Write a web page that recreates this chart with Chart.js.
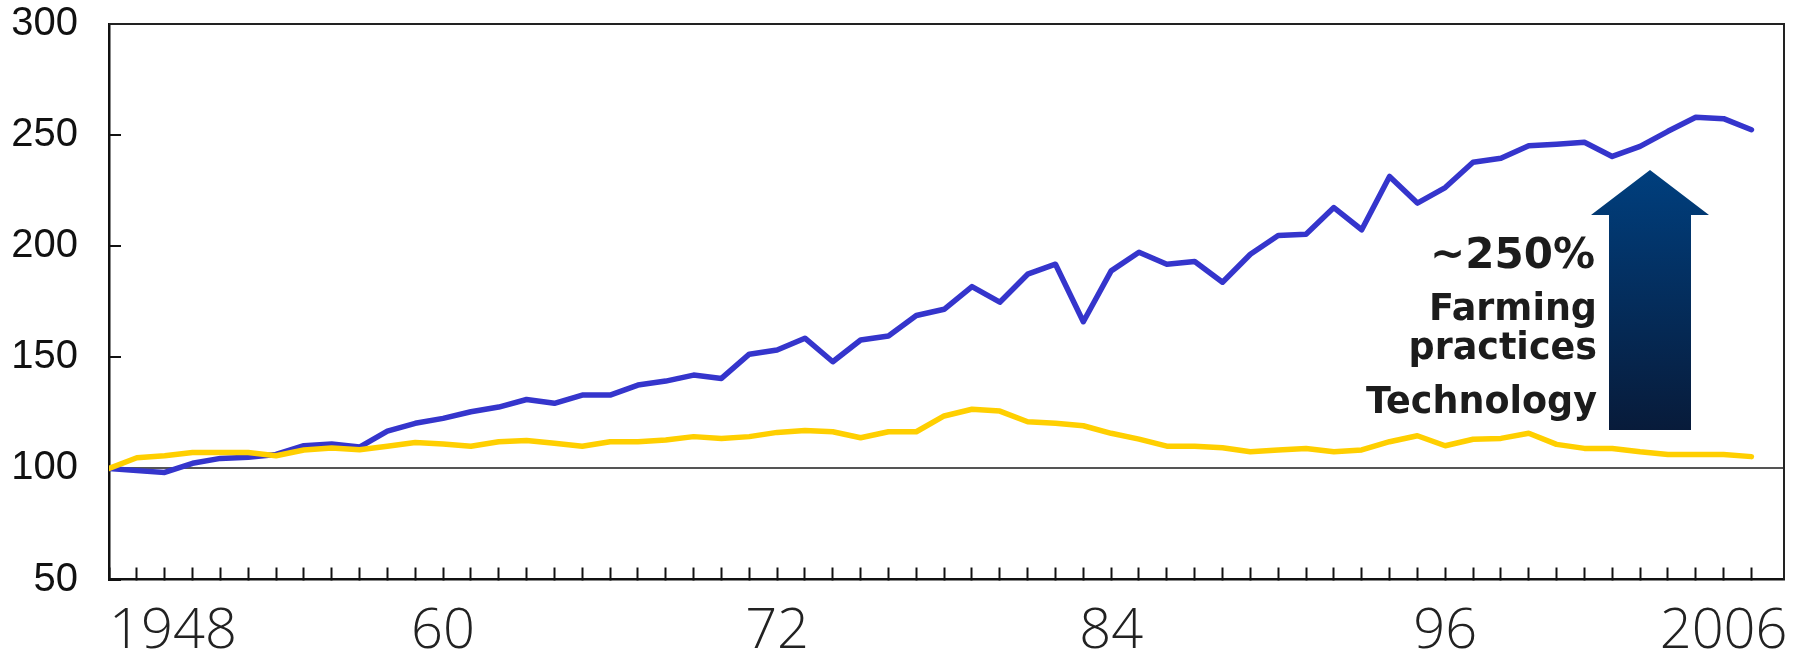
<!DOCTYPE html>
<html>
<head>
<meta charset="utf-8">
<script src="https://cdn.jsdelivr.net/npm/chart.js@4.4.1/dist/chart.umd.min.js"></script>
<style>
  html, body { margin: 0; padding: 0; background: #fff; }
  #wrap { width: 1796px; height: 653px; position: relative; }
</style>
</head>
<body>
<div id="wrap"><canvas id="farmChart"></canvas></div>
<script>
// index, 1948 = 100
const years = [
    1948, 1949, 1950, 1951, 1952, 1953, 1954, 1955, 1956, 1957,
    1958, 1959, 1960, 1961, 1962, 1963, 1964, 1965, 1966, 1967,
    1968, 1969, 1970, 1971, 1972, 1973, 1974, 1975, 1976, 1977,
    1978, 1979, 1980, 1981, 1982, 1983, 1984, 1985, 1986, 1987,
    1988, 1989, 1990, 1991, 1992, 1993, 1994, 1995, 1996, 1997,
    1998, 1999, 2000, 2001, 2002, 2003, 2004, 2005, 2006, 2007
];
const outputIndex = [
    100, 99, 98.2, 102.3, 104.5, 105, 106.3, 110.2, 111, 109.6,
    116.8, 120.3, 122.5, 125.5, 127.6, 131, 129.3, 133, 133, 137.5,
    139.3, 142, 140.5, 151.4, 153.3, 158.6, 148, 157.8, 159.6, 168.8,
    171.6, 181.8, 174.8, 187.4, 191.9, 166, 188.9, 197.3, 191.9, 193.1,
    183.8, 196.4, 204.8, 205.4, 217.4, 207.4, 231.4, 219.4, 226.4, 237.8,
    239.6, 245.2, 245.9, 246.8, 240.4, 244.9, 251.7, 258, 257.4, 252.4
];
const inputIndex = [
    100, 104.8, 105.7, 107.2, 107.2, 107.2, 105.7, 108.3, 109.2, 108.4,
    110, 111.7, 111, 110, 112, 112.6, 111.3, 110, 112, 112,
    112.8, 114.3, 113.5, 114.3, 116.2, 117.1, 116.5, 113.8, 116.5, 116.5,
    123.6, 126.6, 125.8, 121, 120.3, 119.2, 115.8, 113.2, 110, 110,
    109.3, 107.5, 108.3, 109, 107.5, 108.3, 112, 114.7, 110.2, 113.1,
    113.5, 115.8, 110.8, 109, 109, 107.5, 106.3, 106.3, 106.3, 105.3
];
const tickYears = [1948, 1960, 1972, 1984, 1996, 2006];
const tickText = ['1948', '60', '72', '84', '96', '2006'];
const yTicks = [50, 100, 150, 200, 250, 300];
const noteLines = ['~250%', 'Farming', 'practices', 'Technology'];

// top + right edge of the box
const framePlugin = {
    id: 'frame',
    beforeDatasetsDraw(chart) {
        const { ctx, chartArea: a } = chart;
        ctx.save();
        ctx.strokeStyle = '#222';
        ctx.lineWidth = 2;
        ctx.beginPath();
        ctx.moveTo(a.left, a.top);
        ctx.lineTo(a.right, a.top);
        ctx.lineTo(a.right, a.bottom);
        ctx.stroke();
        ctx.restore();
    }
};

// big arrow + the text beside it
const notePlugin = {
    id: 'note',
    afterDatasetsDraw(chart) {
        const ctx = chart.ctx;
        ctx.save();
        const g = ctx.createLinearGradient(0, 170, 0, 430);
        g.addColorStop(0, '#003f7e');
        g.addColorStop(1, '#081b3a');
        ctx.fillStyle = g;
        ctx.beginPath();
        ctx.moveTo(1650, 170);
        ctx.lineTo(1709, 215);
        ctx.lineTo(1691, 215);
        ctx.lineTo(1691, 430);
        ctx.lineTo(1609, 430);
        ctx.lineTo(1609, 215);
        ctx.lineTo(1591, 215);
        ctx.closePath();
        ctx.fill();

        ctx.fillStyle = '#1c1c1c';
        ctx.textAlign = 'right';
        ctx.textBaseline = 'alphabetic';
        ctx.font = 'bold 42px "DejaVu Sans"';
        ctx.fillText(noteLines[0], 1595, 268);
        ctx.font = 'bold 36.5px "DejaVu Sans"';
        ctx.fillText(noteLines[1], 1597, 320);
        ctx.fillText(noteLines[2], 1597, 359);
        ctx.fillText(noteLines[3], 1597, 413);
        ctx.restore();
    }
};

function initChart() {
    const ctx = document.getElementById('farmChart').getContext('2d');
    new Chart(ctx, {
        type: 'line',
        data: {
            datasets: [
                {
                    label: 'Input',
                    data: inputIndex.map((v, i) => ({ x: years[i], y: v })),
                    borderColor: '#ffcf00',
                    borderWidth: 5.5,
                    pointRadius: 0,
                    tension: 0,
                    borderJoinStyle: 'round',
                    borderCapStyle: 'round'
                },
                {
                    label: 'Output',
                    data: outputIndex.map((v, i) => ({ x: years[i], y: v })),
                    borderColor: '#3535cc',
                    borderWidth: 5.5,
                    pointRadius: 0,
                    tension: 0,
                    borderJoinStyle: 'round',
                    borderCapStyle: 'round'
                }
            ]
        },
        options: {
            responsive: true,
            maintainAspectRatio: false,
            animation: false,
            layout: { padding: { top: 24, right: 12, left: 0, bottom: 0 } },
            plugins: { legend: { display: false }, tooltip: { enabled: false } },
            scales: {
                x: {
                    type: 'linear',
                    min: 1948,
                    max: 2008.17,
                    afterBuildTicks: s => { s.ticks = years.map(v => ({ value: v })); },
                    afterFit: s => {
                        s.height = 73.5;
                        s.paddingLeft = 0;
                        s.paddingRight = 0;
                    },
                    grid: { drawOnChartArea: false, drawTicks: true, tickLength: -12, tickColor: '#111', tickWidth: 2 },
                    border: { display: true, color: '#111', width: 2.5 },
                    ticks: {
                        autoSkip: false,
                        maxRotation: 0,
                        align: 'inner',
                        padding: 31,
                        color: '#222',
                        font: { family: '"Open Sans", sans-serif', size: 56, weight: '300' },
                        callback: v => {
                            const k = tickYears.indexOf(v);
                            return k < 0 ? '' : tickText[k];
                        }
                    }
                },
                y: {
                    min: 50,
                    max: 300,
                    afterBuildTicks: s => { s.ticks = yTicks.map(v => ({ value: v })); },
                    afterFit: s => {
                        s.width = 109;
                        s.paddingTop = 0;
                        s.paddingBottom = 0;
                    },
                    grid: {
                        drawTicks: true,
                        tickLength: -12,
                        tickColor: '#111',
                        tickWidth: 2,
                        lineWidth: 2,
                        color: c => (c.tick && c.tick.value === 100) ? '#555' : 'rgba(0,0,0,0)'
                    },
                    border: { display: true, color: '#111', width: 2.5 },
                    ticks: {
                        padding: 43,
                        color: '#111',
                        font: { family: '"Liberation Sans", Arial, sans-serif', size: 40 }
                    }
                }
            }
        },
        plugins: [framePlugin, notePlugin]
    });
}

window.addEventListener('load', initChart);
</script>
</body>
</html>
